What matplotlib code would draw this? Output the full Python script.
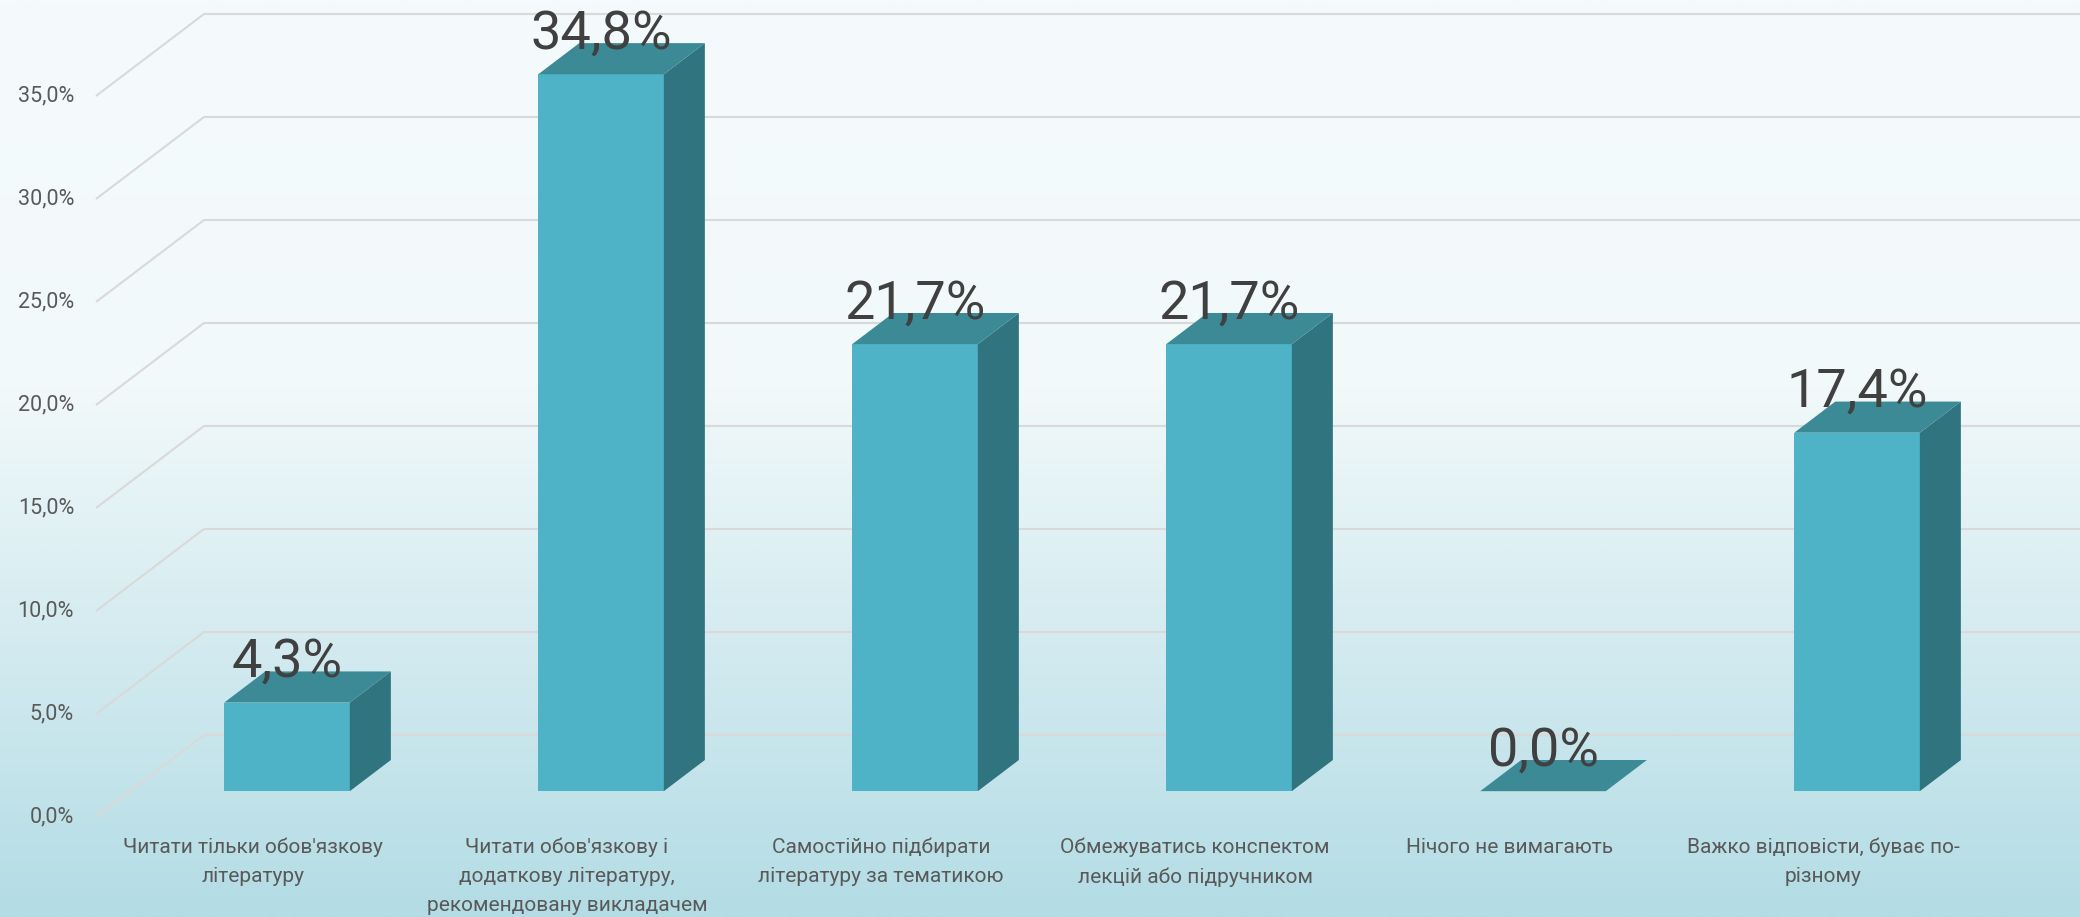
import numpy as np
import matplotlib
matplotlib.use("Agg")
import matplotlib.pyplot as plt
from matplotlib.patches import Polygon
from matplotlib.colors import LinearSegmentedColormap

# ---- data ----
categories = [
    "Читати тільки обов'язкову\nлітературу",
    "Читати обов'язкову і\nдодаткову літературу,\nрекомендовану викладачем",
    "Самостійно підбирати\nлітературу за тематикою",
    "Обмежуватись конспектом\nлекцій або підручником",
    "Нічого не вимагають",
    "Важко відповісти, буває по-\nрізному",
]
values = [4.3, 34.8, 21.7, 21.7, 0.0, 17.4]
value_labels = ["4,3%", "34,8%", "21,7%", "21,7%", "0,0%", "17,4%"]
y_ticks = [0, 5, 10, 15, 20, 25, 30, 35]
y_tick_labels = ["0,0%", "5,0%", "10,0%", "15,0%", "20,0%", "25,0%", "30,0%", "35,0%"]

# ---- style ----
FONT = ["Roboto", "DejaVu Sans"]
front_c = "#4FB3C8"
side_c = "#307480"
top_c = "#3C8A96"
grid_c = "#D9D9D9"

W, H, DPI = 2080, 917, 100
fig = plt.figure(figsize=(W / DPI, H / DPI), dpi=DPI)
ax = fig.add_axes([0, 0, 1, 1])

px_x = 314.0   # pixels per category
px_y = 20.6    # pixels per percent
x0_px, y0_px = 96.0, 817.0
xlim = (-x0_px / px_x, -x0_px / px_x + W / px_x)
ylim = (-(H - y0_px) / px_y, y0_px / px_y)

# depth vector (full floor depth) in data units
DX, DY = 108.0 / px_x, 82.0 / px_y
d0, bd = 0.315, 0.38   # bar front depth offset, bar depth fraction
bw = 0.40              # bar width fraction of category

# background gradient (white at top -> light blue at bottom)
cmap = LinearSegmentedColormap.from_list(
    "bg", [(0.0, "#F5FBFC"), (0.42, "#F2F9FA"), (1.0, "#B3DCE5")])
grad = np.linspace(0, 1, 400).reshape(-1, 1)
ax.imshow(grad, cmap=cmap, aspect="auto", origin="upper",
          extent=(xlim[0], xlim[1], ylim[0], ylim[1]),
          zorder=0, interpolation="bilinear")
ax.set_xlim(*xlim)
ax.set_ylim(*ylim)
ax.axis("off")

# gridlines (front diagonal + back wall horizontal)
for v, lab in zip(y_ticks, y_tick_labels):
    ax.plot([0, DX, xlim[1] + 1], [v, v + DY, v + DY], color=grid_c, lw=1.5,
            zorder=1, solid_capstyle="butt")
    ax.text(-0.07, v, lab, ha="right", va="center", fontsize=15.5,
            color="#595959", family=FONT, zorder=5)

# bars
for i, v in enumerate(values):
    xl = i + 0.5 - bw / 2 + d0 * DX
    xr = xl + bw
    yb = d0 * DY
    yt = v + d0 * DY
    dx, dy = bd * DX, bd * DY
    if v > 0:
        ax.add_patch(Polygon([(xl, yb), (xr, yb), (xr, yt), (xl, yt)],
                             closed=True, fc=front_c, ec="none", zorder=3))
        ax.add_patch(Polygon([(xr, yb), (xr + dx, yb + dy), (xr + dx, yt + dy), (xr, yt)],
                             closed=True, fc=side_c, ec="none", zorder=3))
    ax.add_patch(Polygon([(xl, yt), (xr, yt), (xr + dx, yt + dy), (xl + dx, yt + dy)],
                         closed=True, fc=top_c, ec="none", zorder=3))
    ax.text((xl + xr) / 2, yt + 1.25, value_labels[i], ha="center", va="baseline",
            fontsize=39, color="#404040", family=FONT, zorder=6)

# category labels
for i, lab in enumerate(categories):
    ax.text(i + 0.5, -1.0, lab, ha="center", va="top", fontsize=15,
            color="#595959", family=FONT, linespacing=1.65, zorder=5)

fig.savefig("out.png", dpi=DPI)
